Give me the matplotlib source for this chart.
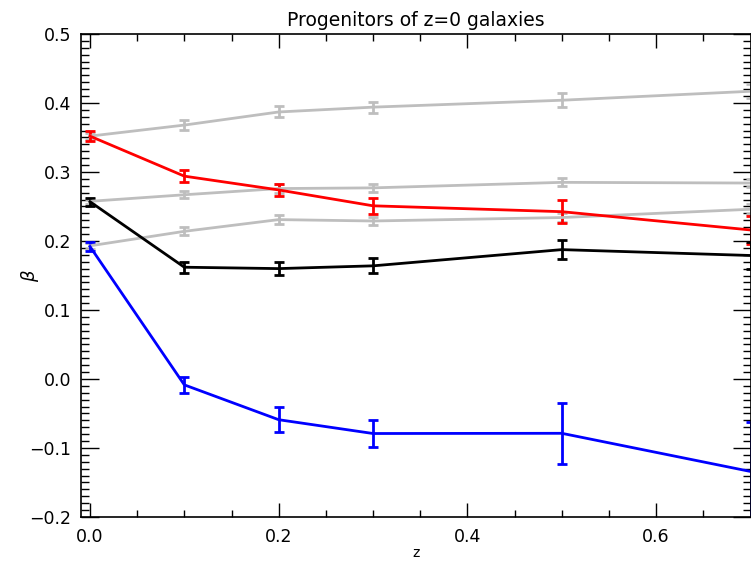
import numpy as np
import matplotlib.pyplot as plt
from matplotlib.ticker import MultipleLocator

z = [0.0, 0.1, 0.2, 0.3, 0.5, 0.7]

# grey reference tracks
grey_top = [0.352, 0.368, 0.387, 0.394, 0.404, 0.417]
grey_top_err = [0.004, 0.007, 0.008, 0.008, 0.010, 0.010]
grey_mid = [0.2575, 0.267, 0.276, 0.277, 0.285, 0.284]
grey_mid_err = [0.004, 0.005, 0.006, 0.006, 0.006, 0.006]
grey_low = [0.193, 0.214, 0.231, 0.229, 0.234, 0.246]
grey_low_err = [0.004, 0.006, 0.006, 0.006, 0.006, 0.007]

# coloured progenitor samples
red = [0.352, 0.294, 0.274, 0.251, 0.2425, 0.216]
red_err = [0.007, 0.009, 0.009, 0.012, 0.0167, 0.020]
black = [0.257, 0.162, 0.160, 0.164, 0.1875, 0.179]
black_err = [0.006, 0.008, 0.010, 0.011, 0.014, 0.020]
blue = [0.192, -0.0085, -0.059, -0.079, -0.0787, -0.134]
blue_err = [0.007, 0.012, 0.0183, 0.020, 0.044, 0.0716]

fig = plt.figure(figsize=(7.51, 5.62), dpi=100)
ax = fig.add_axes([81/751, 1-517/562, 669.5/751, 483/562])

series = [
    (grey_top, grey_top_err, '#bebebe'),
    (grey_mid, grey_mid_err, '#bebebe'),
    (grey_low, grey_low_err, '#bebebe'),
    (red, red_err, '#ff0000'),
    (black, black_err, '#000000'),
    (blue, blue_err, '#0000ff'),
]
for y, e, c in series:
    ax.errorbar(z, y, yerr=e, color=c, lw=2, elinewidth=2, capsize=3.5,
                capthick=2)

ax.set_xlim(-0.0095, 0.7)
ax.set_ylim(-0.2, 0.5)

ax.xaxis.set_major_locator(MultipleLocator(0.2))
ax.xaxis.set_minor_locator(MultipleLocator(0.05))
ax.yaxis.set_major_locator(MultipleLocator(0.1))
ax.yaxis.set_minor_locator(MultipleLocator(0.01))
ax.tick_params(which='both', direction='in', top=True, right=True,
               labelsize=12.5, width=1.0)
ax.tick_params(axis='x', which='major', length=10, pad=8)
ax.tick_params(axis='x', which='minor', length=5)
ax.tick_params(axis='y', which='major', length=13, pad=7)
ax.tick_params(axis='y', which='minor', length=6)
ax.set_xticklabels([f'{t:.1f}' for t in ax.get_xticks()])
ax.set_yticklabels([f'{t:.1f}'.replace('-', '\u2212') for t in ax.get_yticks()])
for s in ax.spines.values():
    s.set_linewidth(1.2)

ax.set_title('Progenitors of z=0 galaxies', fontsize=13.5, pad=6)
ax.set_xlabel('z', fontsize=10, labelpad=0)
ax.set_ylabel(r'$\beta$', fontsize=13)
ax.yaxis.set_label_coords(-0.06, 0.5)

fig.savefig('out.png', dpi=100)
